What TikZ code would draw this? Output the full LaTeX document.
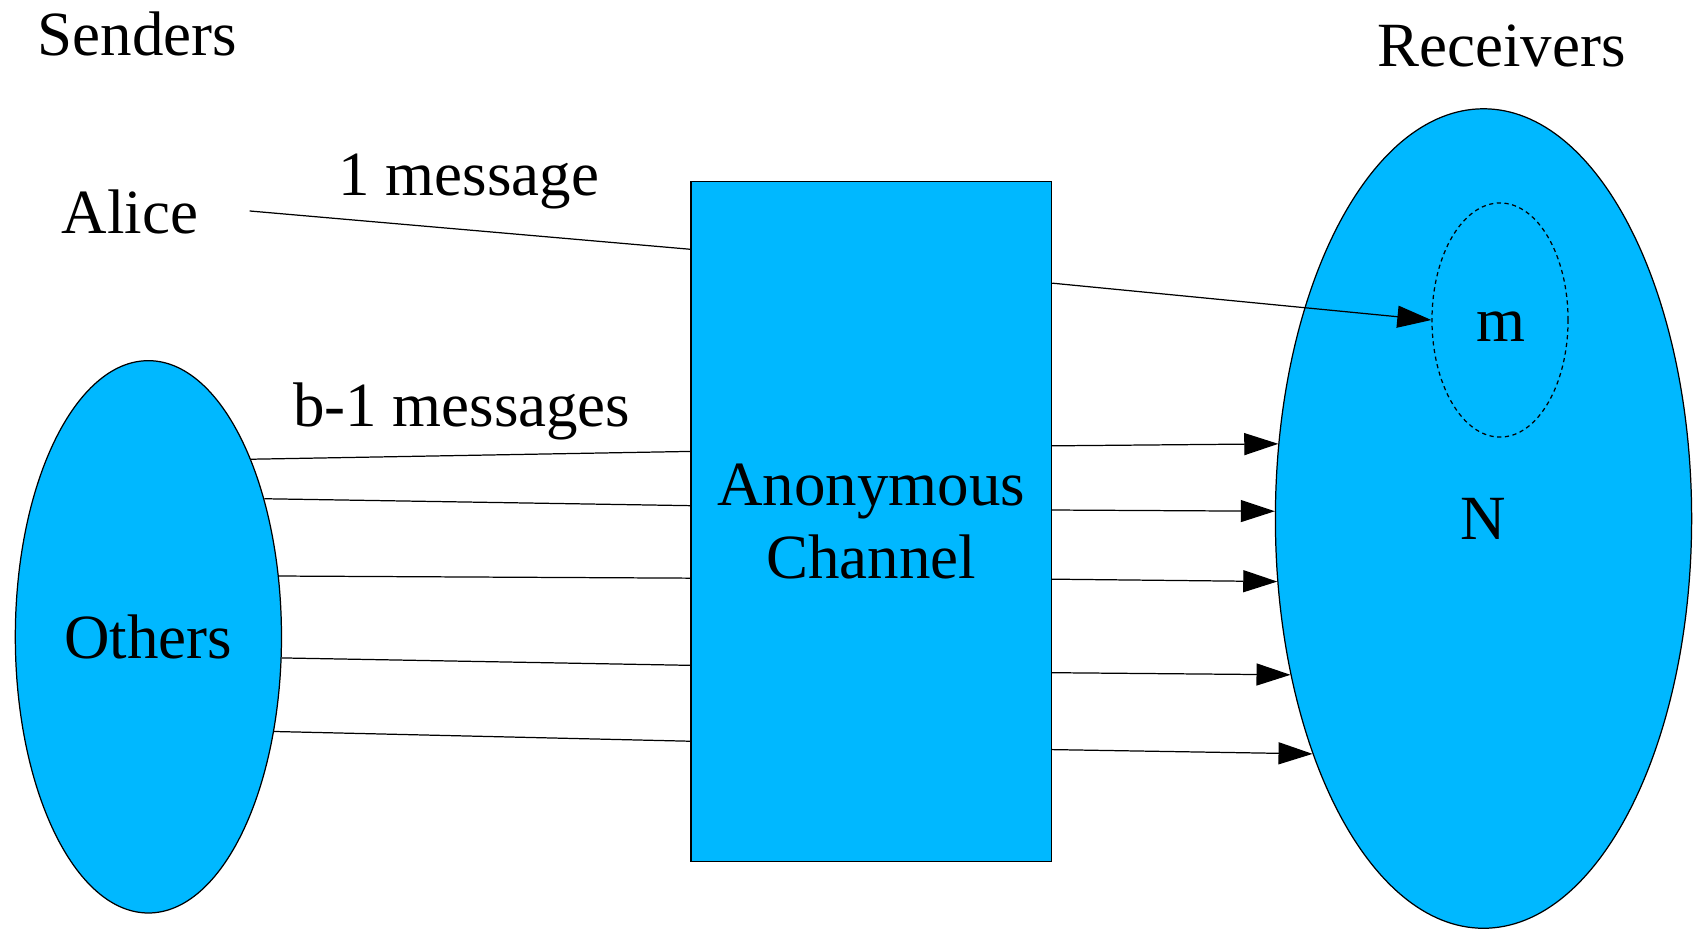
\documentclass[tikz,border=0pt]{standalone}
\usepackage{fontspec}
\setmainfont{Liberation Serif}
\usetikzlibrary{arrows.meta,calc,shapes.geometric}
\definecolor{chanblue}{RGB}{0,184,255}

\begin{document}
\begin{tikzpicture}[x=0.01cm, y=-0.01cm,
  lbl/.style={font=\fontsize{17.9}{20.8}\selectfont, inner sep=0pt},
  blob/.style={ellipse, draw, fill=chanblue, line width=0.35pt, inner sep=0pt},
  wire/.style={line width=0.35pt},
  msgarrow/.style={wire, -{Triangle[length=3.4mm, width=2.2mm]}}]
\useasboundingbox (0,0) rectangle (1698,929);
% headings and labels
\node[lbl, anchor=base] (senders) at (137.5,55) {Senders};
\node[lbl, anchor=base] (receivers) at (1501.7,66.7) {Receivers};
\node[lbl, anchor=base] (alice) at (130,233) {Alice};
\node[lbl, anchor=base] (onemsg) at (469,195) {1 message};
\node[lbl, anchor=base] (bmsg) at (461.7,426) {b-1 messages};
% the three blocks
\node[blob, lbl, minimum width=2.66cm, minimum height=5.52cm] (others) at (148.4,636.8) {Others};
\node[draw, fill=chanblue, line width=0.35pt, lbl, align=center,
      minimum width=3.605cm, minimum height=6.79cm] (chan) at (871.25,521.5) {Anonymous\\Channel};
\node[blob, lbl, minimum width=4.16cm, minimum height=8.19cm] (recv) at (1483.5,518.5) {N};
\node[ellipse, draw, line width=0.35pt, dash pattern=on 1.2pt off 1pt,
      minimum width=1.36cm, minimum height=2.34cm] (msg) at (1500,320) {};
\node[lbl, anchor=base] (mlabel) at (1500.7,341.7) {m};
% senders into the channel
\draw[wire, shorten <=0.51cm] ([yshift=1.4pt]alice.east) -- ($(chan.north west)!0.1!(chan.south west)$);
\foreach \a/\f in {60/0.397, 50/0.4767, 25/0.5832, 351/0.7113, 323/0.8228}
  \draw[wire] (others.\a) -- ($(chan.north west)!\f!(chan.south west)$);
% channel out to the receivers
\draw[msgarrow] ($(chan.north east)!0.1498!(chan.south east)$) -- (msg.west);
\foreach \f/\a in {0.3888/160, 0.4831/178, 0.5847/197, 0.7221/219, 0.8351/234}
  \draw[msgarrow] ($(chan.north east)!\f!(chan.south east)$) -- (recv.\a);
\end{tikzpicture}
\end{document}
